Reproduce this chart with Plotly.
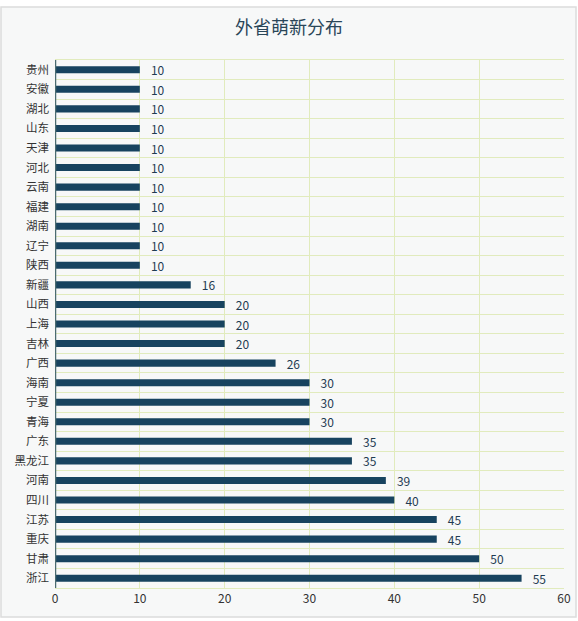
import plotly.graph_objects as go

# provinces, top to bottom as in the chart
provinces = ['贵州', '安徽', '湖北', '山东', '天津', '河北', '云南', '福建', '湖南',
             '辽宁', '陕西', '新疆', '山西', '上海', '吉林', '广西', '海南', '宁夏',
             '青海', '广东', '黑龙江', '河南', '四川', '江苏', '重庆', '甘肃', '浙江']
counts = [10, 10, 10, 10, 10, 10, 10, 10, 10,
          10, 10, 16, 20, 20, 20, 26, 30, 30,
          30, 35, 35, 39, 40, 45, 45, 50, 55]
x_ticks = [0, 10, 20, 30, 40, 50, 60]

font_cn = 'Noto Sans CJK SC'
bar_col = '#17435f'
grid_col = '#e1ebbd'
bg_col = '#f7f8f8'

fig = go.Figure()
fig.add_trace(go.Bar(
    x=counts, y=provinces, orientation='h',
    marker=dict(color=bar_col, line_width=0),
    width=0.36,
    text=counts, texttemplate='   %{x}', textposition='outside',
    cliponaxis=False, constraintext='none',
    textfont=dict(family=font_cn, size=12, color='#1f3b52'),
))

fig.update_layout(
    width=578, height=621,
    margin=dict(l=55, r=14, t=60, b=33),
    paper_bgcolor='white', plot_bgcolor=bg_col,
    title=dict(text='外省萌新分布', x=0.5, xanchor='center', y=0.955, yanchor='middle',
               font=dict(family=font_cn, size=18, color='#2a4658')),
    showlegend=False,
    bargap=0.6,
)
fig.update_xaxes(
    range=[0, 60], tickvals=x_ticks, showgrid=True, gridcolor=grid_col, gridwidth=1,
    zeroline=False, showline=True, linecolor=grid_col, mirror=True, automargin=False,
    tickfont=dict(family=font_cn, size=12, color='#333333'), ticks='',
)
fig.update_yaxes(
    autorange='reversed', tickson='boundaries', showgrid=True, gridcolor=grid_col,
    ticks='', showline=False, automargin=False, ticklabelstandoff=5,
    tickfont=dict(family=font_cn, size=11.5, color='#333333'),
)
# outer card behind everything
fig.add_shape(type='rect', xref='paper', yref='paper', layer='below',
              x0=-54 / 509, x1=1 + 12 / 509, y0=-29 / 528, y1=1 + 53 / 528,
              line=dict(color='#dcdcdc', width=1.5), fillcolor=bg_col)
# left axis line
fig.add_shape(type='line', xref='x', yref='paper', x0=0, x1=0, y0=0, y1=1,
              line=dict(color='#4b6b70', width=2.5))

# page body margin would shift the figure by 8px
fig.write_html('out.html', config={'displayModeBar': False},
               post_script="document.body.style.margin='0';")
